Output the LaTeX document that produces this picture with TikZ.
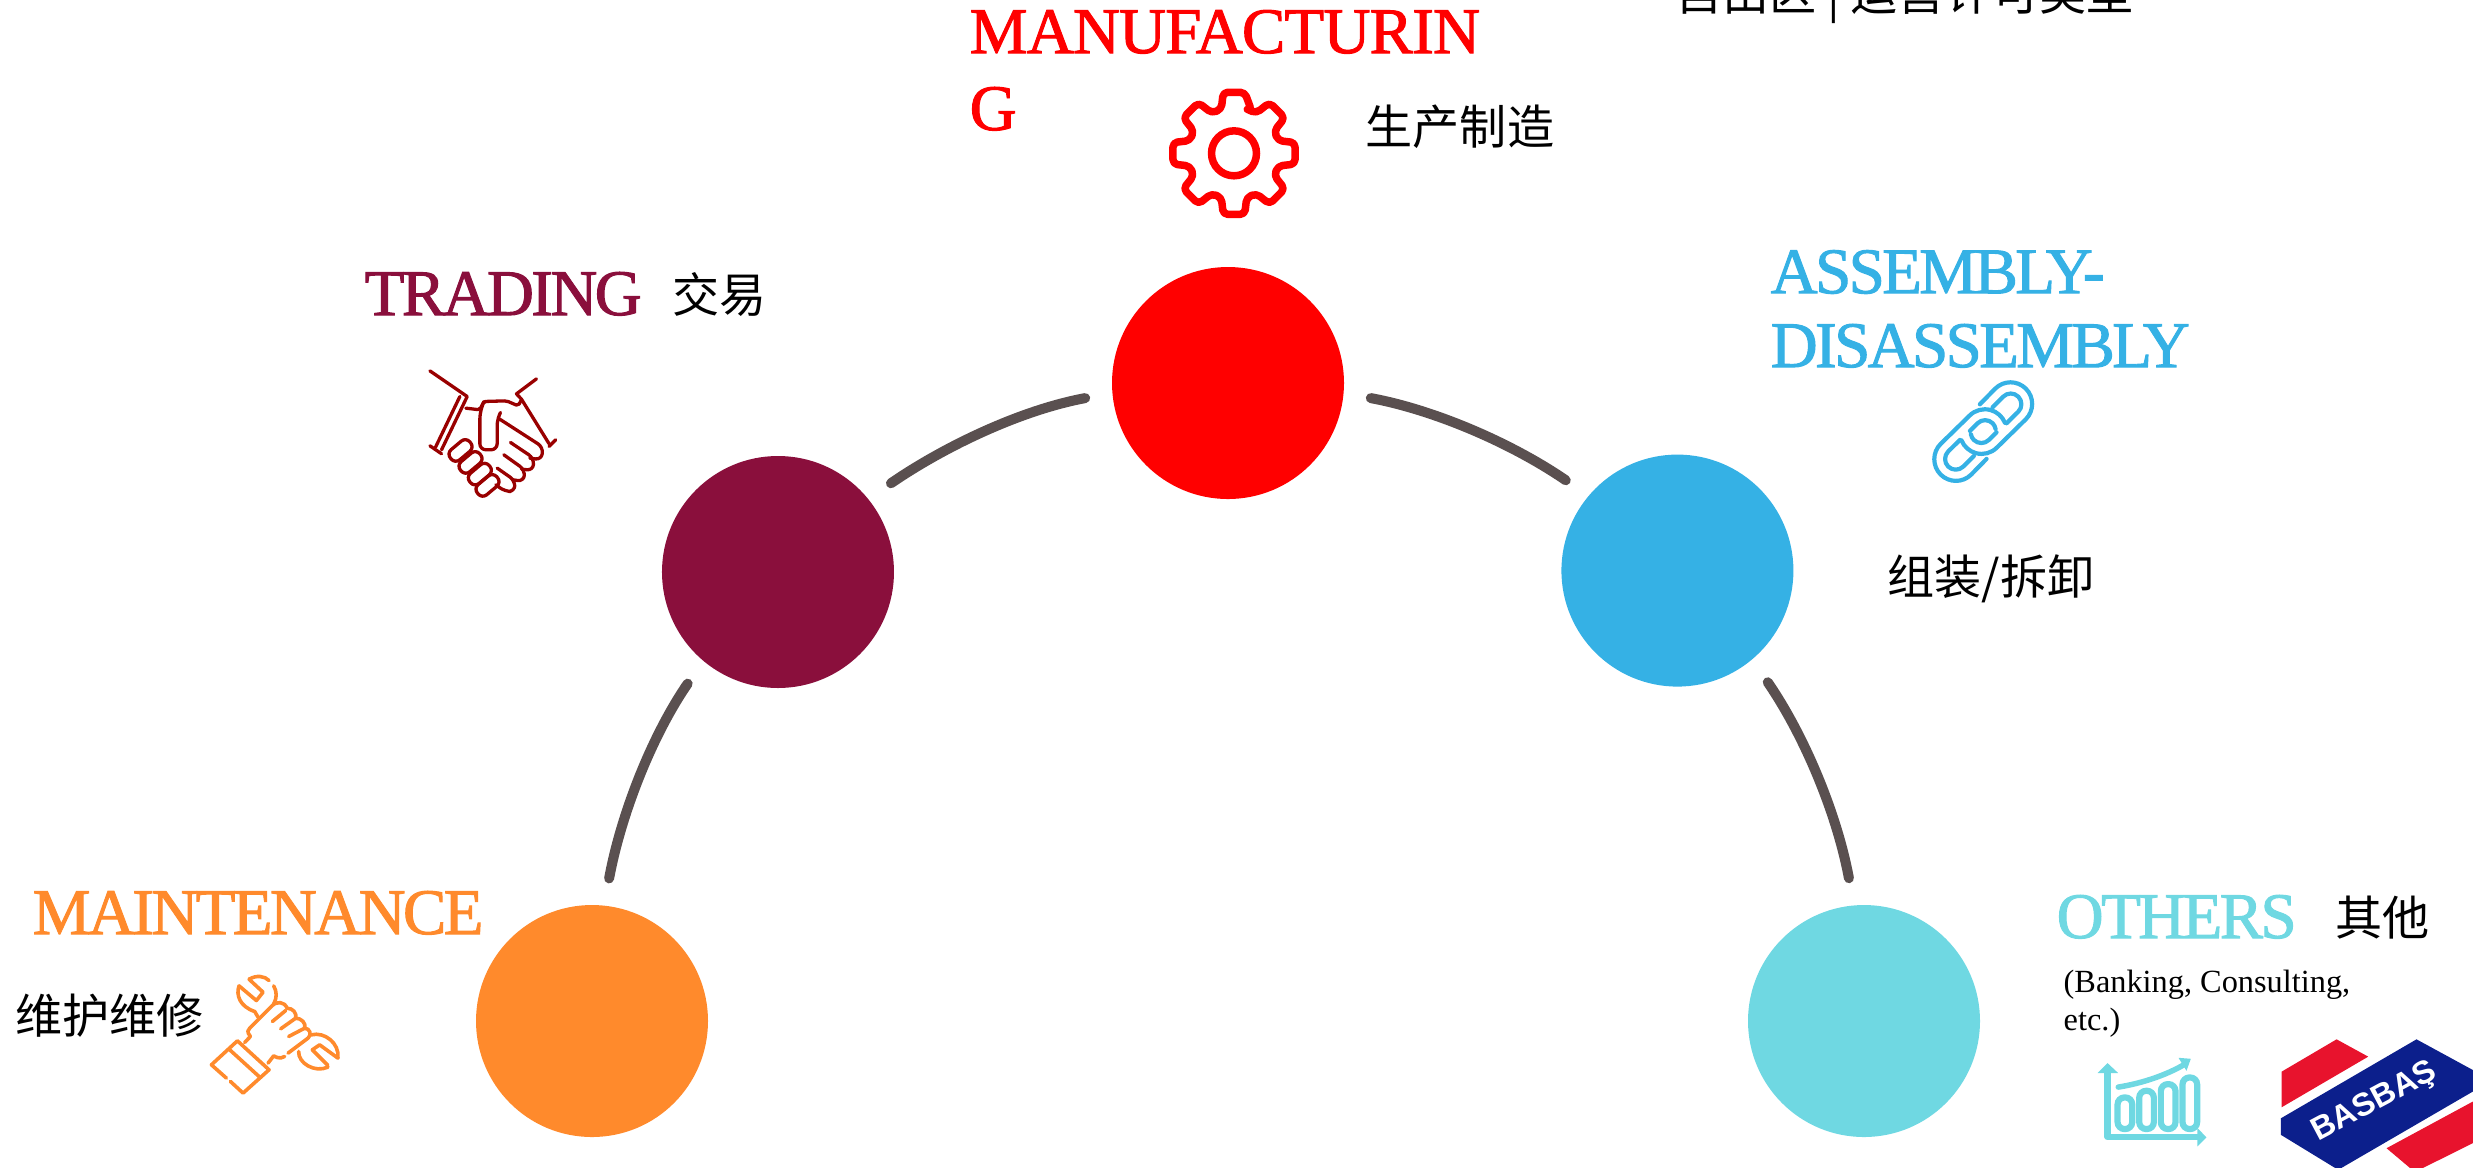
\documentclass[tikz,border=0pt]{standalone}
\usepackage{fontspec}
\usepackage{tikz}
\usetikzlibrary{calc}
\setmainfont{Liberation Serif}
\newfontfamily\cjk{Noto Sans CJK SC}
\newfontfamily\headfont[LetterSpace=-4,FakeBold=1.5]{Liberation Serif}
\newfontfamily\mfgfont[LetterSpace=-1.2,FakeBold=1.5]{Liberation Serif}
\newfontfamily\logofont{Liberation Sans}
\definecolor{stagered}{HTML}{FF0000}
\definecolor{stagewine}{HTML}{8A0F3C}
\definecolor{stageblue}{HTML}{35B1E5}
\definecolor{stageorange}{HTML}{FF8A2C}
\definecolor{stagecyan}{HTML}{6FD8E2}
\definecolor{linkgrey}{HTML}{5A5050}
\definecolor{shakered}{HTML}{990000}
\definecolor{logored}{HTML}{E8132D}
\definecolor{logoblue}{HTML}{0C1F8C}

\begin{document}
\begin{tikzpicture}[
    stage/.style={circle, minimum size=2.32cm, inner sep=0},
    link/.style={draw=linkgrey, line width=.1cm, line cap=round, shorten >=.27cm, shorten <=.27cm, looseness=.89},
    head/.style={font=\headfont\fontsize{18.5}{21}\selectfont, inner sep=0, anchor=base west, align=left},
    cn/.style={font=\cjk\fontsize{13.4}{16}\selectfont, inner sep=0, anchor=base west, text=black},
    icon/.style={line cap=round, line join=round},
    zoomed/.style={x=.1cm, y=.1cm, scale=.0333, yscale=-1}
]
    \useasboundingbox (0,0) rectangle (24.73,-11.68);

    \coordinate (hub) at (12.27,-10.21);
    \node[stage, fill=stagered] (mfg) at ($(hub)+(.01,6.38)$) {};
    \node[stage, fill=stagewine] (trading) at ($(hub)+(135:6.35)$) {};
    \node[stage, fill=stageblue] (assembly) at ($(hub)+(45:6.37)$) {};
    \node[stage, fill=stageorange] (maint) at ($(hub)+(180:6.35)$) {};
    \node[stage, fill=stagecyan] (others) at ($(hub)+(0:6.37)$) {};

    \draw[link] (maint.84.8) to[out=79.5, in=235.5] (trading.230.2);
    \draw[link] (trading.39.8) to[out=34.5, in=190.5] (mfg.185.2);
    \draw[link] (mfg.-5.2) to[out=-10.5, in=145.5] (assembly.140.2);
    \draw[link] (assembly.-50.2) to[out=-55.5, in=100.5] (others.95.2);

    \node[head, text=stagered, font=\mfgfont\fontsize{18.5}{21.9}\selectfont] (mfgtitle) at (9.69,-1.30) {MANUFACTURIN\\G};
    \node[cn] (mfgcn) at (13.65,-1.44) {生产制造};
    \node[cn] (zonecn) at (16.75,-.10) {自由区 | 运营许可类型};
    \node[head, text=stagewine] (tradingtitle) at (3.64,-3.15) {TRADING};
    \node[cn] (tradingcn) at (6.72,-3.12) {交易};
    \node[head, text=stageblue] (assemblytitle) at (17.70,-3.67) {ASSEMBLY-\\DISASSEMBLY};
    \node[cn] (assemblycn) at (18.87,-5.94) {组装/拆卸};
    \node[head, text=stageorange] (mainttitle) at (.32,-9.34) {MAINTENANCE};
    \node[cn] (maintcn) at (.15,-10.33) {维护维修};
    \node[head, text=stagecyan] (otherstitle) at (20.56,-9.38) {OTHERS};
    \node[cn] (otherscn) at (23.35,-9.35) {其他};
    \node[inner sep=0, anchor=base west, align=left, font=\fontsize{9.2}{10.8}\selectfont] (othersnote) at (20.63,-10.30) {(Banking, Consulting,\\etc.)};

    \begin{scope}[shift={(12.34,-1.533)}, x=.01cm, y=.01cm]
        \draw[icon, stagered, line width=.075cm, rounded corners=.045cm] (67.5:46) foreach \a in {90,135,...,405} {-- ({\a-10}:62) -- ({\a+10}:62) -- ({\a+16}:46) -- ({\a+29}:46)} -- cycle;
        \draw[stagered, line width=.075cm] (0,0) circle (22.5);
    \end{scope}

    \begin{scope}[shift={(18.8,-3.5)}, zoomed]
        \foreach \r in {0,180} {
            \begin{scope}[rotate around={\r:(310,245)}]
                \draw[icon, stageblue, line width=.042cm] (300,163) -- (346,116) arc[start angle=-135, end angle=45, radius=65] -- (351,293) arc[start angle=45, end angle=158, radius=65];
                \draw[icon, stageblue, line width=.042cm] (338,172) -- (370,140) arc[start angle=-135, end angle=45, radius=32] -- (380,220);
                \draw[icon, stageblue, line width=.042cm] (350,247) -- (327,270) arc[start angle=45, end angle=170, radius=32];
            \end{scope}
        }
    \end{scope}

    \begin{scope}[shift={(3.4,-2.4)}, zoomed]
        \begin{scope}[icon, shakered, line width=.033cm]
            \draw (270,393) -- (382,470) -- (305,630);
            \draw (360,470) -- (287,622);
            \draw (270,618) -- (305,642);
            \draw (590,417) -- (530,462) -- (545,478) -- (628,612);
            \draw (628,620) -- (648,600);
            \draw[rounded corners=.02cm] (378,505) -- (420,510) -- (432,485) -- (500,483) -- (535,498) -- (545,480);
            \draw[rounded corners=.06cm] (432,485) -- (420,520) -- (420,630) -- (472,630) -- (472,540) -- (482,518);
            \draw[rounded corners=.06cm] (475,535) -- (610,622) -- (605,660) -- (570,655);
            \draw[rounded corners=.06cm] (512,608) -- (582,655) -- (580,692) -- (545,688);
            \draw[rounded corners=.06cm] (492,645) -- (555,690) -- (552,725) -- (518,720);
            \draw[rounded corners=.06cm] (472,685) -- (525,722) -- (525,755) -- (495,755) -- (468,735);
            \foreach \cx/\cy in {362/632,392/668,420/703,443/737} {
                \draw[rounded corners=.06cm, rotate around={-40:(\cx,\cy)}] ($(\cx,\cy)+(-38,-20)$) rectangle ($(\cx,\cy)+(38,20)$);
            }
        \end{scope}
    \end{scope}

    \begin{scope}[shift={(0,-8.6)}, zoomed]
        \begin{scope}[icon, stageorange, line width=.036cm]
            \draw (748,358) .. controls (770,345) and (795,348) .. (808,362);
            \draw (822,378) .. controls (832,395) and (832,415) .. (822,432);
            \draw (748,358) -- (790,397) -- (770,422) -- (718,378);
            \draw (718,378) .. controls (708,405) and (720,440) .. (765,455) -- (775,472);
            \draw (735,548) -- (752,530) .. controls (740,515) and (745,510) .. (750,505) -- (815,440) .. controls (830,422) and (855,425) .. (862,445) .. controls (880,445) and (892,460) .. (888,475) .. controls (905,475) and (920,490) .. (915,505) .. controls (930,505) and (938,525) .. (925,535) -- (865,580);
            \draw (855,590) .. controls (840,600) and (825,590) .. (822,588) -- (805,610);
            \draw (818,485) -- (858,452);
            \draw (843,507) -- (888,475);
            \draw (867,530) -- (915,505);
            \draw (680,655) -- (635,615) -- (713,543) -- (808,630) -- (730,700) -- (692,665);
            \draw (690,570) -- (780,652);
            \draw (935,525) .. controls (975,515) and (1020,550) .. (1015,595) -- (960,555) -- (938,570) -- (985,617);
            \draw (985,622) .. controls (945,640) and (895,610) .. (897,575);
        \end{scope}
    \end{scope}

    \begin{scope}[shift={(20.2,-8.6)}, zoomed]
        \begin{scope}[stagecyan]
            \draw[icon, line width=.065cm] (263,630) -- (263,832) -- (540,832);
            \fill (263,610) -- (295,640) -- (233,640) -- cycle;
            \fill (560,833) -- (533,805) -- (533,860) -- cycle;
            \foreach \bx/\by in {285/705,350/685,415/665,480/645} {
                \draw[line width=.062cm, rounded corners=.07cm] (\bx+8,\by+8) rectangle (\bx+52,808);
            }
            \draw[icon, line width=.055cm] (295,682) .. controls (370,670) and (440,645) .. (492,615);
            \fill (513,597) -- (476,594) -- (500,633) -- cycle;
        \end{scope}
    \end{scope}

    \begin{scope}[shift={(22.6,-10.2)}, zoomed]
        \fill[logored] (65,155) -- (230,58) -- (325,110) -- (65,262) -- cycle;
        \fill[logoblue] (63,295) -- (470,58) -- (639,150) -- (639,215) -- (245,444) -- (225,444) -- (63,345) -- cycle;
        \fill[logored] (380,385) -- (639,245) -- (639,370) -- (490,444) -- (450,444) -- cycle;
        \node[rotate=28, text=white, inner sep=0, font=\logofont\bfseries\fontsize{9.2}{11}\selectfont] (logotext) at (345,248) {BASBAŞ};
    \end{scope}
\end{tikzpicture}
\end{document}
